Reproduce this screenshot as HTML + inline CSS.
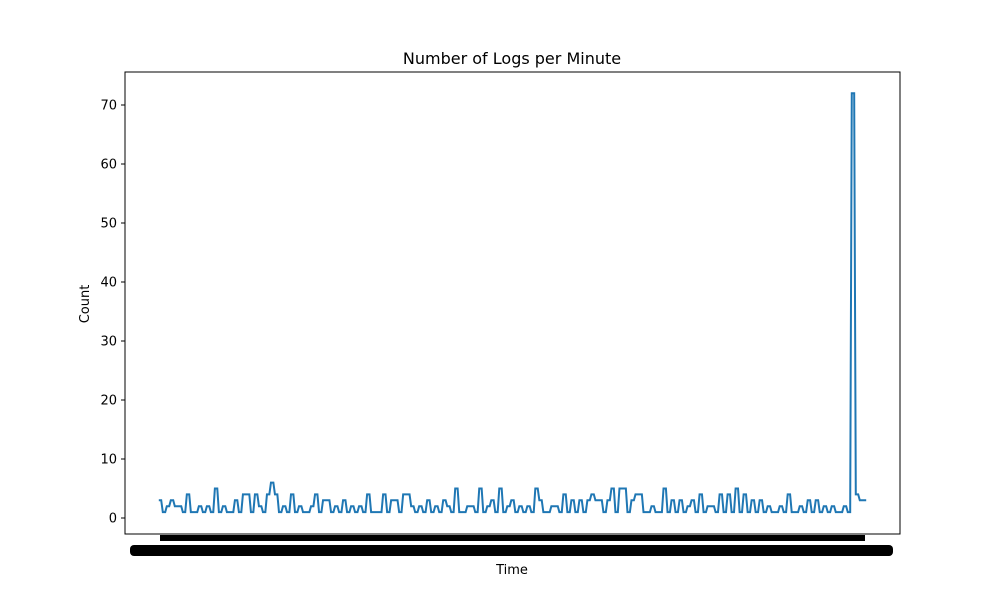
<!DOCTYPE html>
<html><head><meta charset="utf-8"><style>
body{margin:0;background:#fff;font-family:"Liberation Sans","DejaVu Sans",sans-serif}
</style></head><body>
<svg id="chart" width="1000" height="600" xmlns="http://www.w3.org/2000/svg" font-family="DejaVu Sans, Liberation Sans, sans-serif">
<rect width="1000" height="600" fill="#fff"/>
<text x="512" y="64" text-anchor="middle" font-size="16">Number of Logs per Minute</text>
<text x="512" y="574" text-anchor="middle" font-size="13">Time</text>
<text transform="translate(89,304) rotate(-90)" text-anchor="middle" font-size="13">Count</text>
<g id="yaxis"></g>
<rect x="160" y="535" width="705" height="6" fill="#000"/>
<rect x="130" y="545" width="763" height="11" rx="4" fill="#000"/>
<path id="line" fill="none" stroke="#1f77b4" stroke-width="2" stroke-linejoin="miter"/>
<rect x="125" y="72" width="775" height="462" fill="none" stroke="#000" stroke-width="1"/>
</svg>
<script>
const counts = [3,1,2,3,2,2,1,4,1,1,
2,1,2,1,5,1,2,1,1,3,
1,4,4,1,4,2,1,4,6,4,
1,2,1,4,1,2,1,1,2,4,
1,3,3,1,2,1,3,1,2,1,
2,1,4,1,1,1,4,1,3,3,
1,4,4,2,1,2,1,3,1,2,
1,3,2,1,5,1,1,2,2,1,
5,1,2,3,1,5,1,2,3,1,
2,1,2,1,5,3,1,1,2,2,
1,4,1,3,1,3,1,3,4,3,
3,1,3,5,1,5,5,1,3,4,
4,1,1,2,1,1,5,1,3,1,
3,1,2,3,1,4,1,2,2,1,
4,1,4,1,5,1,4,1,3,1,
3,1,2,1,1,2,1,4,1,1,
2,1,3,1,3,1,2,1,2,1,
1,2,1,72,4,3,3];
const yTicks = [0,10,20,30,40,50,60,70];
const xScale = i => 160 + i * (705 / (counts.length - 1));
const yScale = v => 518 - v * (413 / 70);
const ns = "http://www.w3.org/2000/svg";
const ya = document.getElementById('yaxis');
yTicks.forEach(t => {
  const y = yScale(t);
  const l = document.createElementNS(ns, 'line');
  l.setAttribute('x1', 121); l.setAttribute('x2', 125);
  l.setAttribute('y1', y); l.setAttribute('y2', y);
  l.setAttribute('stroke', '#000');
  
  
  ya.appendChild(l);
  const tx = document.createElementNS(ns, 'text');
  tx.setAttribute('x', 117); tx.setAttribute('y', y + 4.5);
  tx.setAttribute('text-anchor', 'end'); tx.setAttribute('font-size', '13');
  tx.textContent = t;
  
  
  ya.appendChild(tx);
});
const hw = 1.2;
let d = '';
counts.forEach((v, i) => {
  const x = xScale(i), y = yScale(v);
  d += (i ? 'L' : 'M') + (x - hw).toFixed(2) + ',' + y.toFixed(2) + 'L' + (x + hw).toFixed(2) + ',' + y.toFixed(2);
});
document.getElementById('line').setAttribute('d', d);
</script>
</body></html>
